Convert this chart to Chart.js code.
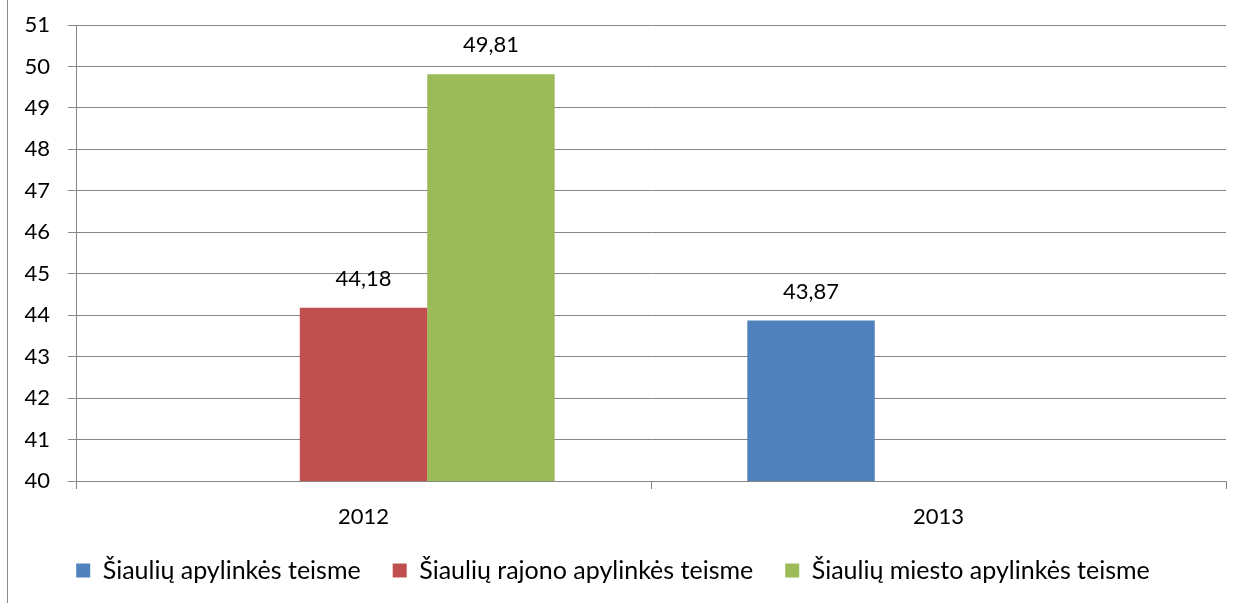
<!DOCTYPE html>
<html>
<head>
<meta charset="utf-8">
<script src="https://cdn.jsdelivr.net/npm/chart.js@4/dist/chart.umd.min.js"></script>
<style>
  html, body { margin: 0; padding: 0; background: #fff; }
  #wrap { position: relative; width: 1243px; height: 603px; }
  #edge { position: absolute; left: 7px; top: 0; width: 1px; height: 603px; background: #8a8a8a; }
</style>
</head>
<body>
<div id="wrap">
  <canvas id="myChart" width="1243" height="603"></canvas>
  <div id="edge"></div>
</div>
<script>
// 데이터
const years = ['2012', '2013'];
const apylinkes = [null, 43.87];   // Šiaulių apylinkės teisme
const rajono = [44.18, null];      // Šiaulių rajono apylinkės teisme
const miesto = [49.81, null];      // Šiaulių miesto apylinkės teisme
const yTicks = [40, 41, 42, 43, 44, 45, 46, 47, 48, 49, 50, 51];

const FONT = 'Lato, "Open Sans", sans-serif';

// 막대 위에 값 표시 (쉼표 소수점)
const valueLabels = {
	id: 'valueLabels',
	afterDatasetsDraw(chart) {
		const ctx = chart.ctx;
		ctx.save();
		ctx.font = '22px ' + FONT;
		ctx.fillStyle = '#000';
		ctx.textAlign = 'center';
		ctx.textBaseline = 'bottom';
		chart.data.datasets.forEach(function(ds, i) {
			chart.getDatasetMeta(i).data.forEach(function(bar, j) {
				const v = ds.data[j];
				if (v === null || v === undefined) return;
				ctx.fillText(v.toFixed(2).replace('.', ','), bar.x, bar.y - 18);
			});
		});
		ctx.restore();
	}
};

const ctx = document.getElementById('myChart');
new Chart(ctx, {
	type: 'bar',
	data: {
		labels: years,
		datasets: [
			{ label: 'Šiaulių apylinkės teisme', data: apylinkes, backgroundColor: '#4F81BD' },
			{ label: 'Šiaulių rajono apylinkės teisme', data: rajono, backgroundColor: '#C0504D' },
			{ label: 'Šiaulių miesto apylinkės teisme', data: miesto, backgroundColor: '#9BBB59' }
		]
	},
	options: {
		responsive: false,
		animation: false,
		layout: { padding: { left: 0, right: 17, top: 25, bottom: 10 } },
		datasets: { bar: { barPercentage: 1, categoryPercentage: 0.665 } },
		scales: {
			x: {
				grid: { drawOnChartArea: false, drawTicks: true, tickLength: 8, color: '#868686', offset: true },
				border: { color: '#868686', width: 1 },
				ticks: { color: '#000', font: { size: 22, family: FONT }, padding: 15 },
				afterFit: function(scale) { scale.height = 45; }
			},
			y: {
				min: 40,
				max: 51,
				afterBuildTicks: function(scale) { scale.ticks = yTicks.map(v => ({ value: v })); },
				grid: { color: '#868686', tickLength: 8 },
				border: { color: '#868686', width: 1 },
				ticks: { color: '#000', font: { size: 22, family: FONT }, padding: 18 },
				afterFit: function(scale) {
					scale.width = 76;
					scale.paddingTop = 0;
					scale.paddingBottom = 0;
				}
			}
		},
		plugins: {
			legend: {
				position: 'bottom',
				labels: {
					color: '#000',
					font: { size: 25, family: FONT },
					boxWidth: 14,
					boxHeight: 14,
					padding: 32
				}
			},
			tooltip: { enabled: false }
		}
	},
	plugins: [valueLabels]
});
</script>
</body>
</html>
